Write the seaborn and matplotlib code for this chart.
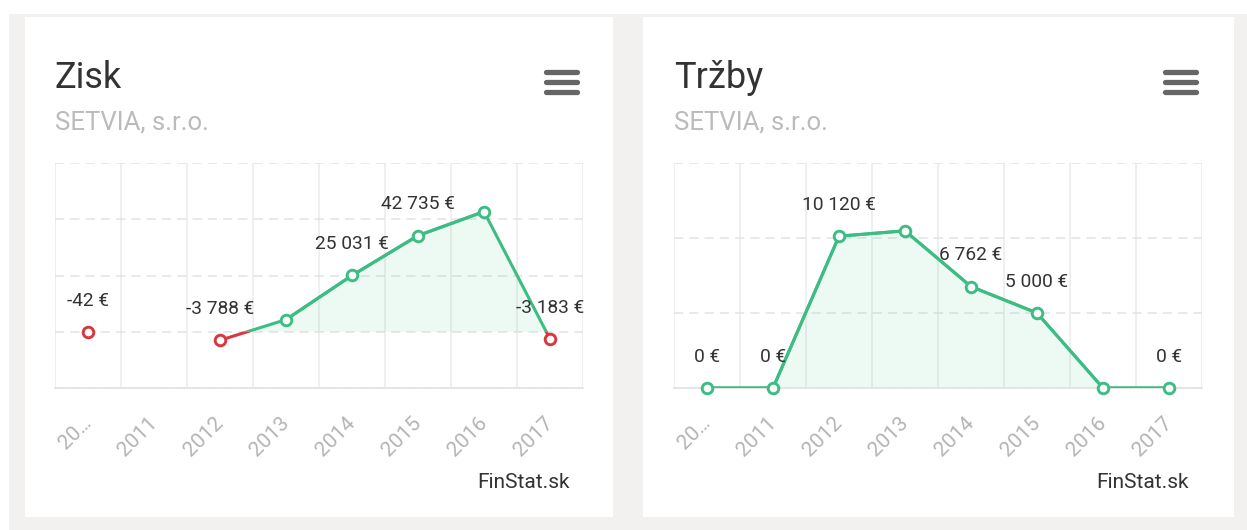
import numpy as np
import pandas as pd
import matplotlib.pyplot as plt
import seaborn as sns
from matplotlib.patches import Rectangle
from matplotlib.lines import Line2D

# chart data
years = ["20…", "2011", "2012", "2013", "2014", "2015", "2016", "2017"]
zisk = [-42, np.nan, -3788, 5400, 25031, 42735, 53400, -3183]
trzby = [0, 0, 10120, 10480, 6762, 5000, 0, 0]
# points whose data label is visible (others hidden by overlap in the original)
zisk_labeled = [0, 2, 4, 5, 7]
trzby_labeled = [0, 1, 2, 4, 5, 7]
company = "SETVIA, s.r.o."

GREEN = "#3dbd83"
RED = "#d9363e"
W, H = 1247, 530

sns.set_style("white")
plt.rcParams['font.family'] = ['Roboto', 'DejaVu Sans']

fig = plt.figure(figsize=(W / 100, H / 100), dpi=100)
fig.patch.set_facecolor("white")


def fx(x):
    return x / W


def fy(y):
    return 1 - y / H


# grey page background and white cards (kept behind the axes)
fig.patches.append(Rectangle((fx(9), 0), 1, fy(14), transform=fig.transFigure,
                             facecolor="#f2f1ef", edgecolor="none", zorder=-2))
for cx0, cx1 in [(25, 613), (643, 1234)]:
    fig.patches.append(Rectangle((fx(cx0), fy(517)), fx(cx1 - cx0), (517 - 17) / H,
                                 transform=fig.transFigure, facecolor="white",
                                 edgecolor="none", zorder=-1))


def fmt(v):
    return f"{v:,.0f}".replace(",", " ") + " €"


def draw_panel(x0, title, values, labeled, ylim, step):
    # x0 = left edge of plot area in pixels
    ax = fig.add_axes([fx(x0), fy(388), fx(528), 225 / H])
    ax.set_facecolor("none")
    df = pd.DataFrame({"pos": np.arange(len(years)), "value": values})

    # area and line, green above zero, red below zero (clipped inside the axes)
    pos_clip = Rectangle((-1, 0), 10, ylim[1], transform=ax.transData)
    neg_clip = Rectangle((-1, ylim[0]), 10, -ylim[0], transform=ax.transData)
    fill = ax.fill_between(df["pos"], df["value"], 0, color=GREEN, alpha=0.09,
                           linewidth=0, zorder=2)
    fill.set_clip_path(pos_clip)
    ln_r, = ax.plot(df["pos"], df["value"], color=RED, lw=2.2, zorder=3)
    ln_r.set_clip_path(neg_clip)
    ln_g, = ax.plot(df["pos"], df["value"], color=GREEN, lw=2.2, zorder=3.5)
    ln_g.set_clip_path(pos_clip)
    # segments lying on zero keep the full green width
    ax.plot(df["pos"], df["value"].where(df["value"] >= 0), color=GREEN,
            lw=2.2, zorder=3.5)

    pts = df.dropna()
    for sign_df, col in [(pts[pts["value"] >= 0], GREEN), (pts[pts["value"] < 0], RED)]:
        if len(sign_df):
            sns.scatterplot(data=sign_df, x="pos", y="value", ax=ax, color="white",
                            edgecolor=col, linewidth=2.1, s=58, zorder=5,
                            clip_on=False, legend=False)

    for i in labeled:
        ax.annotate(fmt(values[i]), (i, values[i]), xytext=(0, 22.5),
                    textcoords="offset points", ha="center", va="center",
                    fontsize=13.8, color="#333333", zorder=6)

    ax.set_xlim(-0.5, len(years) - 0.5)
    ax.set_ylim(*ylim)
    ax.set_yticks(np.arange(ylim[0], ylim[1] + 1, step))
    ax.set_yticklabels([])
    ax.set_xticks(range(len(years)))
    ax.set_xticklabels(years, rotation=45, ha="right", va="center",
                       rotation_mode="anchor", fontsize=15, color="#b6b3b6")
    ax.set_xticks(np.arange(-0.5, len(years)), minor=True)
    ax.tick_params(axis="both", which="both", length=0)
    ax.tick_params(axis="x", which="major", pad=23)
    ax.grid(which="minor", axis="x", color="#e9ebea", lw=1.1)
    ax.grid(which="major", axis="y", color="#e3e3e3", lw=1.1, ls=(0, (6, 4)))
    ax.grid(which="major", axis="x", visible=False)
    ax.set_xlabel("")
    ax.set_ylabel("")
    for side in ["top", "left", "right"]:
        ax.spines[side].set_visible(False)
    ax.spines["bottom"].set_color("#e3e3e3")
    ax.spines["bottom"].set_linewidth(1.3)

    # header, subtitle, menu icon and credits
    fig.text(fx(x0), fy(88), title, fontsize=26, color="#333333", va="baseline")
    fig.text(fx(x0), fy(129), company, fontsize=18.5, color="#bbbbbb", va="baseline")
    for yy in [72, 82, 92]:
        fig.lines.append(Line2D([fx(x0 + 491), fx(x0 + 522)], [fy(yy), fy(yy)],
                                transform=fig.transFigure, color="#666666", lw=3.8,
                                solid_capstyle="round"))
    fig.text(fx(x0 + 515), fy(488), "FinStat.sk", fontsize=15, color="#333333",
             ha="right", va="baseline")


draw_panel(55, "Zisk", zisk, zisk_labeled, (-25000, 75000), 25000)
draw_panel(674, "Tržby", trzby, trzby_labeled, (0, 15000), 5000)

fig.savefig("out.png", dpi=100)
